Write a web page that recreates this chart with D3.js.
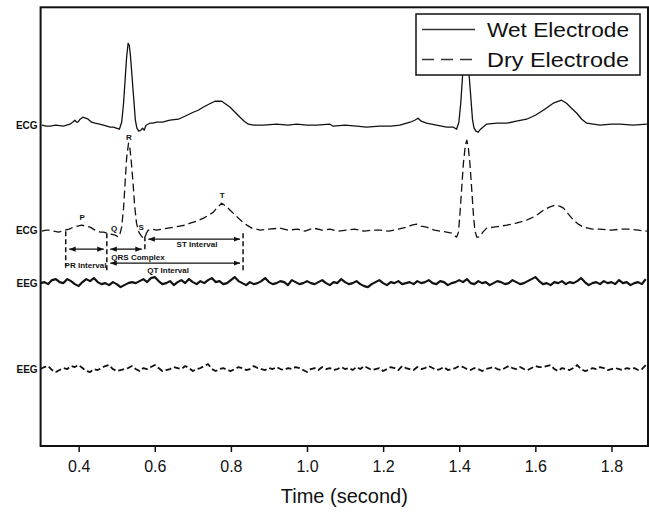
<!DOCTYPE html>
<html><head><meta charset="utf-8">
<script src="https://cdn.jsdelivr.net/npm/d3@7/dist/d3.min.js"></script>
<style>body{margin:0;background:#fff}svg{display:block}</style>
</head><body>
<svg id="chart" width="649" height="517"></svg>
<script>
// ---------- DATA ----------
const seriesNames = ["Wet Electrode", "Dry Electrode"];
const traceLabels = ["ECG", "ECG", "EEG", "EEG"];
const traceOffsets = [321, 216, 163, 77];   // trace baselines (a.u.)
const xTicks = [0.4, 0.6, 0.8, 1.0, 1.2, 1.4, 1.6, 1.8];

// [time (s), amplitude (a.u.)]
const wetEcg = [[0.303,0],[0.315,-1],[0.325,-1],[0.340,0],[0.360,-1],[0.377,1],[0.384,3],[0.390,5],[0.395,3],[0.398,3],
[0.404,6],[0.411,8],[0.418,7],[0.425,6],[0.434,3],[0.443,2],[0.455,1],[0.465,0],[0.474,-1],[0.483,-2],[0.491,-2],[0.499,-3],
[0.507,-4],[0.513,3],[0.518,22],[0.522,45],[0.526,68],[0.530,82],[0.533,80],[0.536,70],[0.540,50],[0.545,25],[0.549,5],
[0.553,-3],[0.558,-6],[0.563,-5],[0.568,-3],[0.572,-5],[0.577,0],[0.587,2],[0.595,2],[0.605,3],[0.620,3],[0.640,5],[0.662,6],
[0.679,9],[0.690,11],[0.701,13],[0.714,15],[0.727,18],[0.742,21],[0.758,24],[0.767,24],[0.776,24],[0.787,21],[0.798,18],
[0.811,13],[0.824,8],[0.835,4],[0.846,1],[0.860,0],[0.885,0],[0.920,1],[0.950,0],[0.973,1],[1.000,0],[1.025,0],[1.060,1],
[1.069,-1],[1.100,0],[1.130,-1],[1.157,-2],[1.190,-1],[1.220,-1],[1.244,0],[1.271,3],[1.283,5],[1.292,7],[1.300,4],[1.314,2],
[1.340,0],[1.367,-2],[1.385,-2],[1.393,-4],[1.399,3],[1.404,22],[1.408,45],[1.412,68],[1.416,82],[1.419,80],[1.422,70],
[1.426,50],[1.431,25],[1.435,5],[1.439,-3],[1.444,-6],[1.450,-7],[1.456,-4],[1.462,-2],[1.472,1],[1.500,2],[1.525,2],
[1.550,4],[1.577,6],[1.600,10],[1.621,15],[1.647,22],[1.669,25],[1.682,22],[1.695,17],[1.709,12],[1.722,6],[1.735,2],
[1.770,0],[1.800,1],[1.822,1],[1.857,0],[1.893,1]];

const dryEcg = [[0.303,-1],[0.315,0],[0.325,0],[0.335,-1],[0.347,-2],[0.356,-1],[0.364,0],[0.375,1],[0.386,3],[0.397,4],
[0.408,5],[0.419,4],[0.430,3],[0.443,0],[0.457,-2],[0.466,-2],[0.474,-3],[0.485,-4],[0.496,-5],[0.505,-7],[0.509,-3],
[0.513,3],[0.518,22],[0.522,47],[0.526,72],[0.531,87],[0.534,84],[0.538,70],[0.543,47],[0.547,25],[0.552,7],[0.558,-2],
[0.565,-6],[0.570,-8],[0.574,-8],[0.578,-3],[0.583,0],[0.592,1],[0.605,0],[0.620,1],[0.635,2],[0.649,3],[0.665,4],[0.680,5],
[0.693,7],[0.710,9],[0.728,12],[0.742,15],[0.754,18],[0.765,23],[0.776,27],[0.787,24],[0.798,20],[0.809,16],[0.820,12],
[0.831,8],[0.842,5],[0.855,2],[0.877,0],[0.900,1],[0.929,2],[0.950,0],[0.975,1],[0.995,-1],[1.017,2],[1.040,0],[1.060,1],
[1.080,-1],[1.104,0],[1.125,1],[1.150,-1],[1.170,0],[1.192,0],[1.215,-1],[1.240,1],[1.262,3],[1.275,5],[1.288,6],[1.300,4],
[1.314,3],[1.335,0],[1.350,-1],[1.367,-2],[1.380,-3],[1.393,-7],[1.398,-2],[1.402,17],[1.407,45],[1.411,67],[1.416,85],
[1.420,90],[1.424,82],[1.428,67],[1.433,40],[1.437,17],[1.441,0],[1.446,-7],[1.450,-7],[1.455,-6],[1.462,-2],[1.472,2],
[1.490,3],[1.508,4],[1.525,5],[1.550,7],[1.577,10],[1.600,14],[1.621,20],[1.637,23],[1.652,25],[1.664,24],[1.674,22],
[1.687,16],[1.700,10],[1.713,6],[1.726,3],[1.750,1],[1.770,1],[1.800,0],[1.825,1],[1.849,1],[1.870,0],[1.893,-1]];

// EEG sampled every 0.01 s from 0.30 s
const eegStart = 0.30, eegStep = 0.01;
const wetEeg = [0,1,-1,3,4,1,0,4,2,-1, -3,1,4,2,5,1,-1,0,-2,1, -1,-4,-2,0,1,0,2,4,1,5, 6,2,-1,0,2,-2,1,3,0,4,
1,-1,2,0,3,5,1,2,-1,0, 3,6,2,0,-2,1,-1,0,2,5, 1,-1,0,2,1,-2,3,1,-1,0, 2,0,-1,1,3,0,-2,1,0,4,
1,-1,0,2,-1,-3,-4,-1,1,3, 0,-2,1,0,2,-1,0,1,-1,2, 0,1,3,0,-1,2,1,-2,0,1, 3,1,4,0,-1,2,0,1,-2,0,
2,1,-1,0,3,1,-1,0,2,4, 6,2,-1,0,-2,1,0,2,-1,1, 0,2,5,1,-2,0,1,-1,2,0, 1,-1,3,0,1,-2,0,1,-1,4];
const dryEeg = [0,2,3,-1,-3,-1,1,0,3,2, 4,1,-2,-3,0,-1,1,3,4,0, -2,-1,0,1,3,0,-2,1,0,2, 4,1,-2,-1,0,2,1,0,3,1,
-2,0,1,3,5,0,-2,0,1,-1, -2,0,2,1,-1,0,3,1,0,-1, 1,0,2,0,-1,1,0,2,1,-1, -3,0,1,-1,2,0,1,-1,0,2,
0,1,-1,2,0,3,1,-1,0,1, -2,0,2,1,-1,3,1,0,-1,2, 0,1,3,1,-1,0,2,-1,0,1, 3,2,0,-1,1,0,-2,0,1,2,
0,-1,1,3,1,0,2,0,-1,1, 3,2,2,3,4,0,-2,1,0,-1, 1,4,0,-2,-1,1,0,2,1,-1, 0,1,0,-1,1,0,1,-1,0,4];

// Annotation data (time s, amplitude a.u.)
const waveLetters = [["P",0.409,229],["Q",0.493,218],["R",0.532,309],["S",0.564,219],["T",0.777,251]];
const intervalBounds = [[0.366,215,180],[0.474,213,175],[0.574,210,194],[0.832,213,175]];
const intervalArrows = [[0.375,0.466,197],[0.483,0.566,197],[0.583,0.824,207],[0.483,0.824,183]];
const intervalTexts = [["PR Interval",0.418,178],["QRS Complex",0.556,186],["ST Interval",0.711,199],["QT Interval",0.635,173]];

// ---------- CHART ----------
const svg = d3.select("#chart");
const L = 40.6, R = 648, T = 7.3, B = 446;
const x = d3.scaleLinear().domain([0.3, 1.896]).range([L, R]);
const y = d3.scaleLinear().domain([0, 439]).range([B, T]);
const font = "'Liberation Sans', Arial, Helvetica, sans-serif";

const defs = svg.append("defs");
defs.append("clipPath").attr("id","clip")
  .append("rect").attr("x",L).attr("y",T).attr("width",R-L).attr("height",B-T);
defs.append("marker").attr("id","arr").attr("viewBox","0 0 10 10").attr("refX",10).attr("refY",5)
  .attr("markerWidth",5).attr("markerHeight",5).attr("orient","auto-start-reverse")
  .append("path").attr("d","M0,1 L10,5 L0,9 Z").attr("fill","#111");

const line = d3.line().x(d=>x(d[0])).y(d=>y(d[1]));
const g = svg.append("g").attr("clip-path","url(#clip)");

const traces = [
  {data: wetEcg.map(d=>[d[0], d[1]+traceOffsets[0]]), dash:null, w:1.3},
  {data: dryEcg.map(d=>[d[0], d[1]+traceOffsets[1]]), dash:"8,4", w:1.3},
  {data: wetEeg.map((v,i)=>[eegStart+i*eegStep, v+traceOffsets[2]]), dash:null, w:2.2},
  {data: dryEeg.map((v,i)=>[eegStart+i*eegStep, v+traceOffsets[3]]), dash:"6,3", w:1.8}
];
traces.forEach(t=>{
  g.append("path").attr("d", line(t.data)).attr("fill","none").attr("stroke","#111")
   .attr("stroke-width", t.w).attr("stroke-dasharray", t.dash).attr("stroke-linejoin","round");
});

// trace labels
svg.selectAll(".tl").data(traceLabels).join("text")
  .attr("x", L-3).attr("y",(d,i)=>y(traceOffsets[i])).attr("dy","0.35em")
  .attr("text-anchor","end").attr("font-family",font).attr("font-weight","bold")
  .attr("font-size",10).attr("fill","#111").text(d=>d);

// annotations
const ann = svg.append("g");
ann.selectAll(".wl").data(waveLetters).join("text")
  .attr("x",d=>x(d[1])).attr("y",d=>y(d[2])).attr("dy","0.35em").attr("text-anchor","middle")
  .attr("font-family",font).attr("font-weight","bold").attr("font-size",8).attr("fill","#111").text(d=>d[0]);
ann.selectAll(".ib").data(intervalBounds).join("line")
  .attr("x1",d=>x(d[0])).attr("x2",d=>x(d[0])).attr("y1",d=>y(d[1])).attr("y2",d=>y(d[2]))
  .attr("stroke","#111").attr("stroke-width",1.5).attr("stroke-dasharray","5,3");
ann.selectAll(".ia").data(intervalArrows).join("line")
  .attr("x1",d=>x(d[0])).attr("x2",d=>x(d[1])).attr("y1",d=>y(d[2])).attr("y2",d=>y(d[2]))
  .attr("stroke","#111").attr("stroke-width",1.3)
  .attr("marker-start","url(#arr)").attr("marker-end","url(#arr)");
ann.selectAll(".it").data(intervalTexts).join("text")
  .attr("x",d=>x(d[1])).attr("y",d=>y(d[2])).attr("text-anchor","middle")
  .attr("font-family",font).attr("font-weight","bold").attr("font-size",8).attr("fill","#111").text(d=>d[0]);

// x axis
const ax = svg.append("g").attr("transform",`translate(0,${B})`)
  .call(d3.axisBottom(x).tickValues(xTicks).tickFormat(d3.format(".1f")).tickSize(6).tickPadding(9));
ax.select(".domain").remove();
ax.selectAll(".tick line").attr("stroke","#111").attr("stroke-width",1.5);
ax.selectAll(".tick text").attr("font-family",font).attr("font-size",16).attr("fill","#111");

svg.append("text").attr("x",(L+R)/2).attr("y",503).attr("text-anchor","middle")
  .attr("font-family",font).attr("font-size",20).attr("fill","#111").text("Time (second)");

// frame
svg.append("rect").attr("x",L).attr("y",T).attr("width",R-L).attr("height",B-T)
  .attr("fill","none").attr("stroke","#111").attr("stroke-width",2);

// legend
const lg = svg.append("g");
lg.append("rect").attr("x",416).attr("y",14).attr("width",224).attr("height",61)
  .attr("fill","#fff").attr("stroke","#111").attr("stroke-width",1.5);
seriesNames.forEach((n,i)=>{
  const yy = 29.5 + i*30;
  lg.append("line").attr("x1",422).attr("x2",475).attr("y1",yy).attr("y2",yy)
    .attr("stroke","#333").attr("stroke-width",1.3).attr("stroke-dasharray", i ? "12,7" : null);
  lg.append("text").attr("x",487).attr("y",yy+7.5).attr("font-family",font).attr("font-size",21)
    .attr("fill","#111").attr("textLength",142).attr("lengthAdjust","spacingAndGlyphs").text(n);
});
</script>
</body></html>
